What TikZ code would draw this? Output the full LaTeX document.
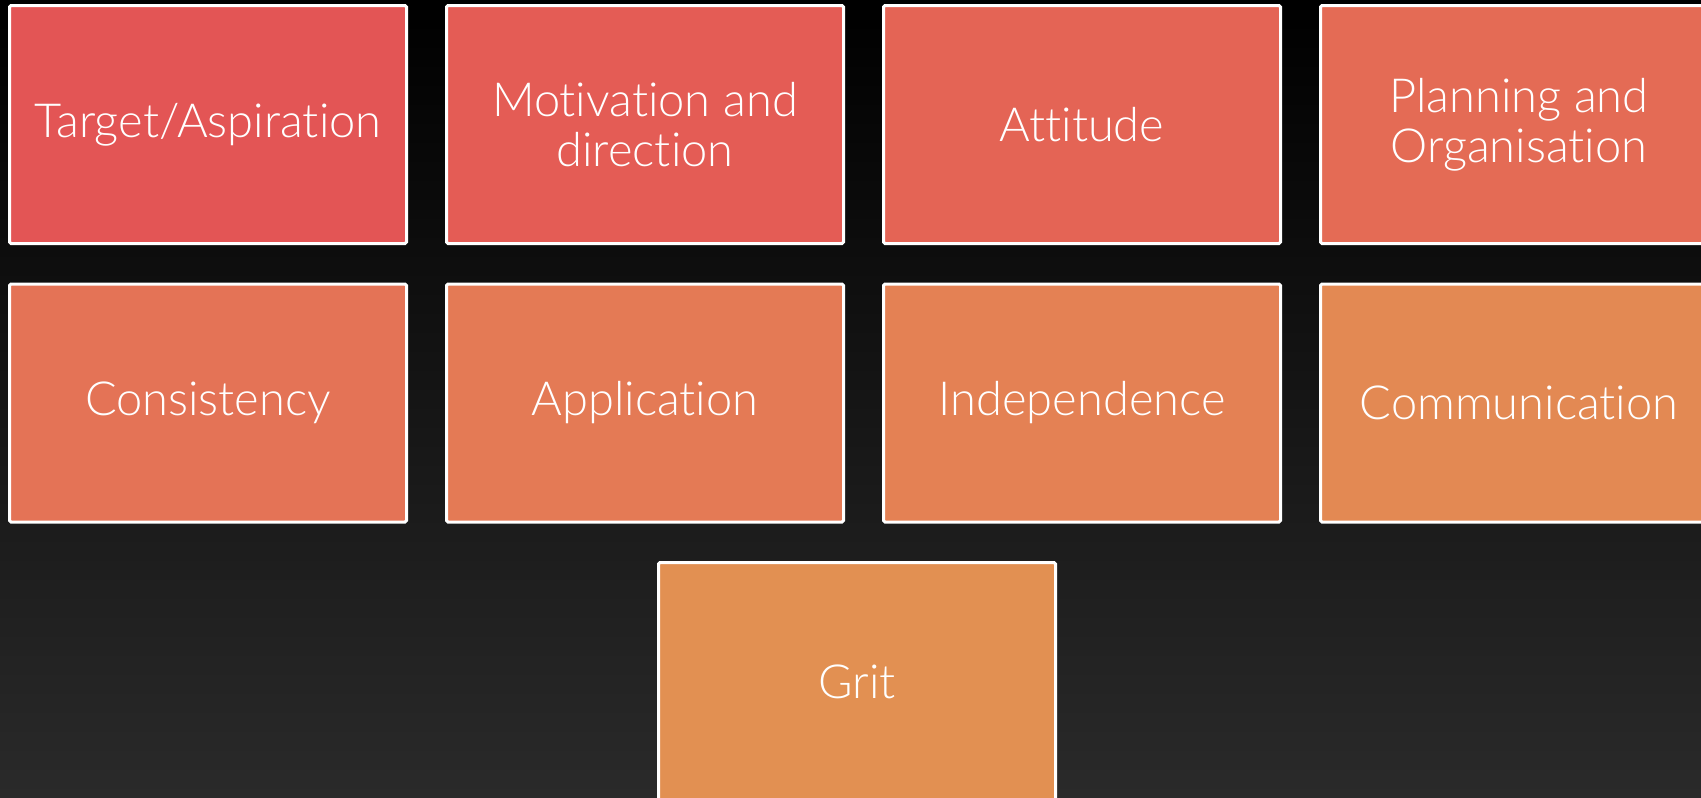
\documentclass[tikz,border=0pt]{standalone}
\usepackage{fontspec}
\setmainfont{Lato Light}[Ligatures=NoCommon]
\begin{document}
\begin{tikzpicture}[x=1pt,y=-1pt,
  tile/.style={draw=white, line width=3pt, rounded corners=1.5pt, minimum width=397pt, minimum height=238pt,
    inner sep=0pt, align=center, text=white, font=\fontsize{47}{50}\selectfont}]
\definecolor{c1}{RGB}{227,85,85}
\definecolor{c2}{RGB}{228,92,85}
\definecolor{c3}{RGB}{228,100,85}
\definecolor{c4}{RGB}{228,107,85}
\definecolor{c5}{RGB}{228,115,86}
\definecolor{c6}{RGB}{228,122,85}
\definecolor{c7}{RGB}{228,129,84}
\definecolor{c8}{RGB}{227,137,83}
\definecolor{c9}{RGB}{226,144,82}
\definecolor{bgbot}{RGB}{42,42,42}
\useasboundingbox (0,0) rectangle (1701,798);
\clip (0,0) rectangle (1701,798);
\shade[top color=black, bottom color=bgbot] (0,0) rectangle (1701,798);
\node[tile, fill=c1] (n1) at (208,124.5) {Target/Aspiration};
\node[tile, fill=c2] (n2) at (645,124.5) {Motivation and\\direction};
\node[tile, fill=c3] (n3) at (1082,124.5) {Attitude};
\node[tile, fill=c4] (n4) at (1519,124.5) {Planning and\\Organisation};
\node[tile, fill=c5] (n5) at (208,403) {Consistency};
\node[tile, fill=c6] (n6) at (645,403) {Application};
\node[tile, fill=c7] (n7) at (1082,403) {Independence};
\node[tile, fill=c8] (n8) at (1519,403) {Communication};
\node[tile, fill=c9] (n9) at (857,681.5) {Grit};
\end{tikzpicture}
\end{document}
